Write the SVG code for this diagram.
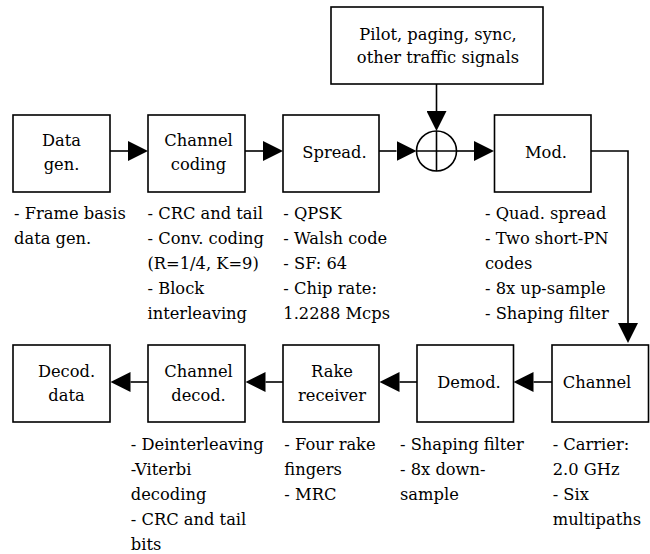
<svg xmlns="http://www.w3.org/2000/svg" width="650" height="554" viewBox="0 0 650 554">
<style>
  .box { fill: #fff; stroke: #000; stroke-width: 1.6; }
  .lbl { font-family: 'DejaVu Serif', serif; font-size: 16.3px; fill: #000; }
  .mid { text-anchor: middle; }
  .conn { fill: none; stroke: #000; stroke-width: 1.6; }
</style>
<defs>
  <marker id="arr" viewBox="0 0 20 20" markerUnits="userSpaceOnUse" markerWidth="20" markerHeight="20" refX="0" refY="10" orient="auto">
    <path d="M0,0 L20,10 L0,20 Z" fill="#000"/>
  </marker>
</defs>
<rect width="650" height="554" fill="#fff"/>

<g id="connectors">
  <line class="conn" x1="110" y1="151" x2="128" y2="151" marker-end="url(#arr)"/>
  <line class="conn" x1="245" y1="151" x2="263" y2="151" marker-end="url(#arr)"/>
  <line class="conn" x1="379" y1="151" x2="396.5" y2="151" marker-end="url(#arr)"/>
  <line class="conn" x1="456.5" y1="151" x2="474" y2="151" marker-end="url(#arr)"/>
  <line class="conn" x1="436.5" y1="84" x2="436.5" y2="111" marker-end="url(#arr)"/>
  <polyline class="conn" points="591,151 628,151 628,323" marker-end="url(#arr)"/>
  <line class="conn" x1="552" y1="382" x2="533.5" y2="382" marker-end="url(#arr)"/>
  <line class="conn" x1="417" y1="382" x2="399.5" y2="382" marker-end="url(#arr)"/>
  <line class="conn" x1="283" y1="382" x2="265.5" y2="382" marker-end="url(#arr)"/>
  <line class="conn" x1="148" y1="382" x2="130.5" y2="382" marker-end="url(#arr)"/>
</g>

<g id="pilot">
  <rect class="box" x="331" y="7" width="212" height="77"/>
  <text class="lbl mid" x="438" y="40"><tspan x="438">Pilot, paging, sync,</tspan><tspan x="438" dy="23.3">other traffic signals</tspan></text>
</g>

<g id="summer">
  <circle cx="436.5" cy="151" r="20" fill="#fff" stroke="#000" stroke-width="1.6"/>
  <line class="conn" x1="436.5" y1="131" x2="436.5" y2="171"/>
  <line class="conn" x1="416.5" y1="151" x2="456.5" y2="151"/>
</g>

<g id="data-gen">
  <rect class="box" x="13" y="115" width="97" height="77"/>
  <text class="lbl mid" x="61.5" y="146.3"><tspan x="61.5">Data</tspan><tspan x="61.5" dy="23.5">gen.</tspan></text>
  <text class="lbl" x="14" y="219"><tspan x="14">- Frame basis</tspan><tspan x="14" dy="25">data gen.</tspan></text>
</g>

<g id="channel-coding">
  <rect class="box" x="148" y="115" width="97" height="77"/>
  <text class="lbl mid" x="198.5" y="146.3"><tspan x="198.5">Channel</tspan><tspan x="198.5" dy="23.5">coding</tspan></text>
  <text class="lbl" x="147.5" y="219"><tspan x="147.5">- CRC and tail</tspan><tspan x="147.5" dy="25">- Conv. coding</tspan><tspan x="147.5" dy="25">(R=1/4, K=9)</tspan><tspan x="147.5" dy="25">- Block</tspan><tspan x="147.5" dy="25">interleaving</tspan></text>
</g>

<g id="spread">
  <rect class="box" x="283" y="115" width="96" height="77"/>
  <text class="lbl mid" x="334.5" y="158.3">Spread.</text>
  <text class="lbl" x="283.3" y="219"><tspan x="283.3">- QPSK</tspan><tspan x="283.3" dy="25">- Walsh code</tspan><tspan x="283.3" dy="25">- SF: 64</tspan><tspan x="283.3" dy="25">- Chip rate:</tspan><tspan x="283.3" dy="25">1.2288 Mcps</tspan></text>
</g>

<g id="mod">
  <rect class="box" x="494.5" y="115" width="96.5" height="77"/>
  <text class="lbl mid" x="546" y="158.3">Mod.</text>
  <text class="lbl" x="485" y="219"><tspan x="485">- Quad. spread</tspan><tspan x="485" dy="25">- Two short-PN</tspan><tspan x="485" dy="25">codes</tspan><tspan x="485" dy="25">- 8x up-sample</tspan><tspan x="485" dy="25">- Shaping filter</tspan></text>
</g>

<g id="channel">
  <rect class="box" x="552" y="345" width="96.5" height="77"/>
  <text class="lbl mid" x="597" y="388.3">Channel</text>
  <text class="lbl" x="552.7" y="449.5"><tspan x="552.7">- Carrier:</tspan><tspan x="552.7" dy="25">2.0 GHz</tspan><tspan x="552.7" dy="25">- Six</tspan><tspan x="552.7" dy="25">multipaths</tspan></text>
</g>

<g id="demod">
  <rect class="box" x="417" y="345" width="96.5" height="77"/>
  <text class="lbl mid" x="469" y="388.3">Demod.</text>
  <text class="lbl" x="400" y="449.5"><tspan x="400">- Shaping filter</tspan><tspan x="400" dy="25">- 8x down-</tspan><tspan x="400" dy="25">sample</tspan></text>
</g>

<g id="rake-receiver">
  <rect class="box" x="283" y="345" width="96" height="77"/>
  <text class="lbl mid" x="332" y="377"><tspan x="332">Rake</tspan><tspan x="332" dy="23.5">receiver</tspan></text>
  <text class="lbl" x="284.3" y="449.5"><tspan x="284.3">- Four rake</tspan><tspan x="284.3" dy="25">fingers</tspan><tspan x="284.3" dy="25">- MRC</tspan></text>
</g>

<g id="channel-decod">
  <rect class="box" x="148" y="345" width="97" height="77"/>
  <text class="lbl mid" x="198.5" y="377"><tspan x="198.5">Channel</tspan><tspan x="198.5" dy="23.5">decod.</tspan></text>
  <text class="lbl" x="130.8" y="449.5"><tspan x="130.8">- Deinterleaving</tspan><tspan x="130.8" dy="25">-Viterbi</tspan><tspan x="130.8" dy="25">decoding</tspan><tspan x="130.8" dy="25">- CRC and tail</tspan><tspan x="130.8" dy="25">bits</tspan></text>
</g>

<g id="decod-data">
  <rect class="box" x="13" y="345" width="97" height="77"/>
  <text class="lbl mid" x="66.5" y="377"><tspan x="66.5">Decod.</tspan><tspan x="66.5" dy="23.5">data</tspan></text>
</g>
</svg>
